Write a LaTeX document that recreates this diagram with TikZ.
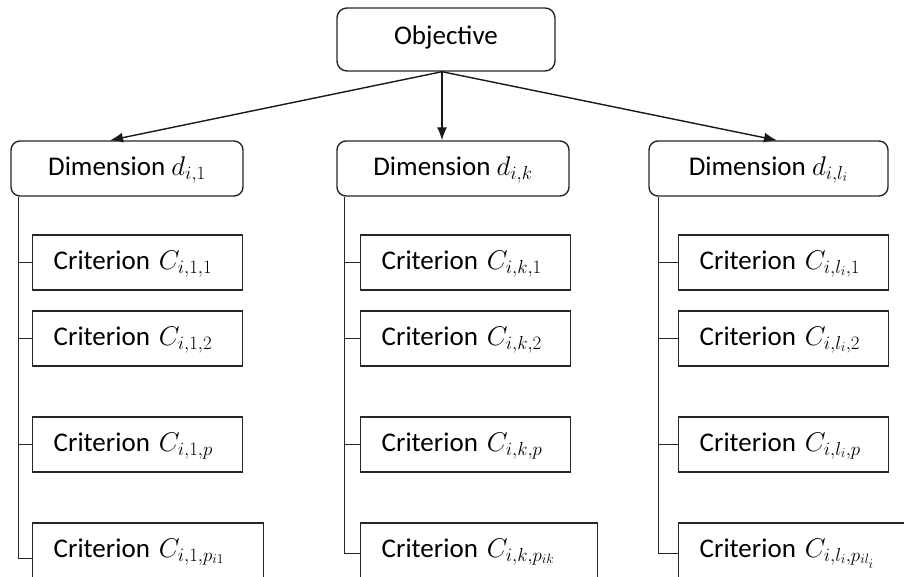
\documentclass[tikz,border=0pt]{standalone}
\usepackage{fix-cm}
\usepackage{fontspec}
\setmainfont{Carlito}
\usetikzlibrary{arrows.meta}

\begin{document}
\begin{tikzpicture}[x=1pt, y=-1pt, line width=1.4pt,
    every node/.style={font=\fontsize{27}{32}\selectfont, text=black},
    dimbox/.style={draw=black!85, rounded corners=9pt, minimum width=232pt, minimum height=55pt, text height=19pt, text depth=6pt},
    critbox/.style={draw=black!85, anchor=west, inner xsep=21pt, inner ysep=0pt, minimum height=55pt, text width=168pt, align=left, text height=19pt, text depth=6pt},
    arr/.style={-{Latex[length=13pt,width=10pt]}, black!90}]
    \useasboundingbox (0,0) rectangle (904,576);

    % top and dimensions
    \node[draw=black!85, rounded corners=10pt, minimum width=218pt, minimum height=63pt, text height=17pt, text depth=8pt] (obj) at (446,39.5) {Objective};
    \node[dimbox] (d1) at (127,168.5) {Dimension $d_{i,1}$};
    \node[dimbox] (dk) at (453,168.5) {Dimension $d_{i,k}$};
    \node[dimbox, minimum width=239pt] (dl) at (768.5,168.5) {Dimension $d_{i,l_i}$};

    % criteria of d_{i,1}
    \node[critbox] (c11) at (32,262.5) {Criterion $C_{i,1,1}$};
    \node[critbox] (c12) at (32,338.5) {Criterion $C_{i,1,2}$};
    \node[critbox] (c13) at (32,444.5) {Criterion $C_{i,1,p}$};
    \node[critbox, text width=189pt] (c14) at (32,550.5) {Criterion $C_{i,1,p_{i1}}$};

    % criteria of d_{i,k}
    \node[critbox] (ck1) at (360,262.5) {Criterion $C_{i,k,1}$};
    \node[critbox] (ck2) at (360,338.5) {Criterion $C_{i,k,2}$};
    \node[critbox] (ck3) at (360,444.5) {Criterion $C_{i,k,p}$};
    \node[critbox, text width=195pt] (ck4) at (360,550.5) {Criterion $C_{i,k,p_{ik}}$};

    % criteria of d_{i,l_i}
    \node[critbox] (cl1) at (678,262.5) {Criterion $C_{i,l_i,1}$};
    \node[critbox] (cl2) at (678,338.5) {Criterion $C_{i,l_i,2}$};
    \node[critbox] (cl3) at (678,444.5) {Criterion $C_{i,l_i,p}$};
    \node[critbox, text width=200pt] (cl4) at (678,550.5) {Criterion $C_{i,l_i,p_{il_i}}$};

    % arrows from the objective
    \coordinate (src) at ([xshift=-4pt]obj.south);
    \draw[arr] (src) -- ([xshift=-17pt]d1.north);
    \draw[arr] (src) -- ([xshift=-11pt]dk.north);
    \draw[arr] (src) -- ([xshift=8.5pt]dl.north);

    % tree lines
    \coordinate (t1) at ([xshift=8pt]d1.south west);
    \coordinate (tk) at ([xshift=8pt]dk.south west);
    \coordinate (tl) at ([xshift=10pt]dl.south west);
    \draw[black!85, line width=1.6pt] (t1) |- (c11.west) (t1) |- (c12.west) (t1) |- (c13.west) (t1) |- ([yshift=-8pt]c14.west);
    \draw[black!85, line width=1.6pt] (tk) |- (ck1.west) (tk) |- (ck2.west) (tk) |- (ck3.west) (tk) |- ([yshift=-3pt]ck4.west);
    \draw[black!85, line width=1.6pt] (tl) |- (cl1.west) (tl) |- (cl2.west) (tl) |- (cl3.west) (tl) |- ([yshift=-3pt]cl4.west);
\end{tikzpicture}
\end{document}
